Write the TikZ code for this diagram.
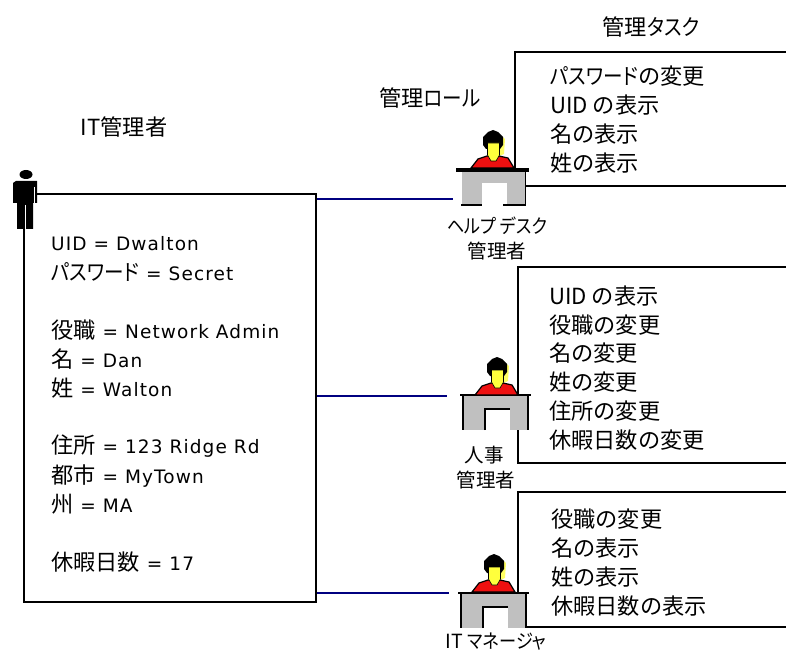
\documentclass[tikz,border=0pt]{standalone}
\usepackage{fontspec}
\setmainfont[LetterSpace=6]{DejaVu Sans}
\newfontfamily\jp{Noto Sans CJK JP}
\newfontfamily\jpkana[RawFeature={+palt},FakeStretch=0.88]{Noto Sans CJK JP}
\newcommand{\kj}[1]{{\jp\fontsize{22.2}{24}\selectfont #1}}
\newcommand{\ka}[1]{{\jpkana #1}}
\definecolor{deskgray}{RGB}{192,192,192}
\definecolor{shirtred}{RGB}{238,16,16}
\definecolor{facey}{RGB}{255,255,60}
\definecolor{linkblue}{RGB}{0,0,128}
\tikzset{
  rule/.style={black,line width=2pt},
  link/.style={linkblue,line width=1.6pt},
  txt/.style={anchor=west,inner sep=0pt,font=\fontsize{18.5}{20}\selectfont},
  head/.style={inner sep=0pt,font=\jp\fontsize{22.2}{24}\selectfont},
  rolelabel/.style={inner sep=0pt,font=\jp\fontsize{19.5}{22}\selectfont},
  pics/clerk/.style={code={
    \fill [facey!80!white] (6,-34) -- (12,-29) -- (11,-14) -- (6,-12) -- cycle;
    \fill [black] (-10,-23) -- (-10,-31) -- (-5,-36) -- (0,-38) -- (5,-36) -- (10,-31) -- (10,-23) -- (7,-19) -- (-7,-19) -- cycle;
    \draw [black,fill=shirtred,line width=1.2pt] (-22,0) -- (-15,-9) -- (-6,-12) -- (6,-12) -- (15,-10) -- (21,0) -- cycle;
    \draw [black,fill=facey,line width=.6pt] (-5.5,-25) -- (6.5,-25) -- (6.5,-13) -- (3,-7) -- (-2,-7) -- (-5.5,-13) -- cycle;
  }},
  pics/desk/.style={code={
    \fill [deskgray] (-33,1) rectangle (33,35);
    \fill [white] (-11,14) rectangle (14,36);
    \draw [black,line width=1.5pt] (-36,0) -- (35,0);
    \draw [black,line width=1.5pt] (-33,0) -- (-33,35);
    \draw [black,line width=1.5pt] (32,0) -- (32,35);
    \draw [black,line width=1.5pt] (-11,35) -- (-11,14) -- (14,14);
  }},
}
\begin{document}
\begin{tikzpicture}[x=1pt,y=-1pt]
\useasboundingbox (0,0) rectangle (786,652);
% IT admin record
\node [rule,draw,inner sep=0pt,minimum width=292pt,minimum height=408pt] (staff) at (170,398) {};
\fill [white] (10,170) rectangle (23,193);
% admin figure
\fill [black] (26,174.5) ellipse (6.5 and 4.5);
\fill [black] (13,183) -- (16,181) -- (37,181) -- (37,203) -- (33,203) -- (33,229) -- (17,229) -- (17,203) -- (13,203) -- cycle;
\draw [white,line width=1pt] (34.2,187) -- (34.2,204);
\draw [white,line width=.7pt] (25.2,205) -- (25.2,229);
% task boxes
\draw [rule] (786,52) -- (515,52) -- (515,186) -- (786,186);
\draw [rule] (786,267) -- (518,267) -- (518,463) -- (786,463);
\draw [rule] (786,492) -- (517.5,492) -- (517.5,627) -- (786,627);
% roles
\coordinate (helpend) at (453,199);
\coordinate (hrend) at (447,396);
\coordinate (mgrend) at (449,593);
\draw [link] (staff.east |- helpend) -- (helpend);
\draw [link] (staff.east |- hrend) -- (hrend);
\draw [link] (staff.east |- mgrend) -- (mgrend);
\fill [deskgray] (462,172) rectangle (525,205);
\fill [white] (482,183) rectangle (507,206);
\draw [black,line width=4pt] (456,170) -- (529,170);
\draw [black,line width=1.5pt] (525.5,172) -- (525.5,205);
\draw [black,line width=1.5pt] (461,205) -- (482,205);
\draw [black,line width=1.5pt] (503,205) -- (526,205);
\pic at (493,168) {clerk};
\pic at (496,395) {desk};
\pic at (497,395) {clerk};
\pic at (494,593) {desk};
\pic at (494,592) {clerk};
% titles
\node [head] (tasktitle) at (651,27) {管理\ka{タスク}};
\node [head] (roletitle) at (430,98) {管理\ka{ロール}};
\node [head] (stafftitle) at (124,127) {IT管理者};
\node [rolelabel] (helpa) at (497,226) {\ka{ヘルプ デスク}};
\node [rolelabel] (helpb) at (497,251) {管理者};
\node [rolelabel] (hra) at (484,455) {人事};
\node [rolelabel] (hrb) at (486,480) {管理者};
\node [rolelabel] (mgra) at (496,642) {IT \ka{マネージャ}};
% record lines
\node [txt] (uid) at (51,244) {UID = Dwalton};
\node [txt] (pass) at (51,272) {\kj{\ka{パスワード}} = Secret};
\node [txt] (title) at (51,330) {\kj{役職} = Network Admin};
\node [txt] (first) at (51,359) {\kj{名} = Dan};
\node [txt] (last) at (51,388) {\kj{姓} = Walton};
\node [txt] (addr) at (51,446) {\kj{住所} = 123 Ridge Rd};
\node [txt] (city) at (51,476) {\kj{都市} = MyTown};
\node [txt] (state) at (51,504) {\kj{州} = MA};
\node [txt] (days) at (51,562) {\kj{休暇日数} = 17};
% task lines
\node [head,anchor=west] (ta) at (550,76) {\ka{パスワード}の変更};
\node [head,anchor=west] (tb) at (550,105) {UID の表示};
\node [head,anchor=west] (tc) at (550,134) {名の表示};
\node [head,anchor=west] (td) at (550,163) {姓の表示};
\node [head,anchor=west] (ua) at (549,296) {UID の表示};
\node [head,anchor=west] (ub) at (549,325) {役職の変更};
\node [head,anchor=west] (uc) at (549,353) {名の変更};
\node [head,anchor=west] (ud) at (549,382) {姓の変更};
\node [head,anchor=west] (ue) at (549,411) {住所の変更};
\node [head,anchor=west] (uf) at (549,440) {休暇日数の変更};
\node [head,anchor=west] (va) at (551,519) {役職の変更};
\node [head,anchor=west] (vb) at (551,548) {名の表示};
\node [head,anchor=west] (vc) at (551,577) {姓の表示};
\node [head,anchor=west] (vd) at (551,606) {休暇日数の表示};
\end{tikzpicture}
\end{document}
